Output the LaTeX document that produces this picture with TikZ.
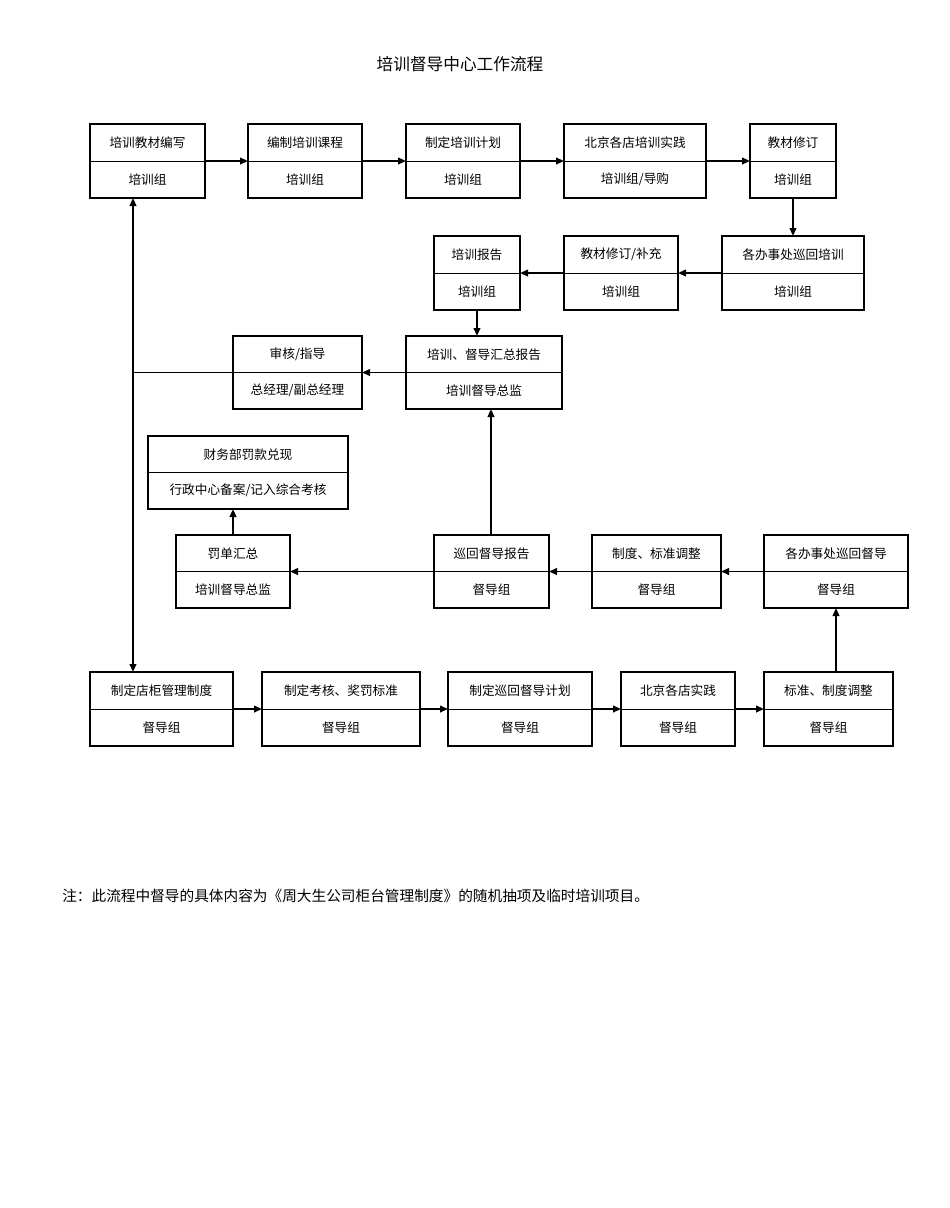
\documentclass[tikz,border=0pt]{standalone}
\usepackage{fontspec}
\setmainfont{Noto Sans CJK SC}
\usetikzlibrary{arrows.meta}
\begin{document}
\begin{tikzpicture}[x=0.75pt,y=-0.75pt,
  bx/.style={draw,line width=1pt},
  tk/.style={draw,line width=1.6pt},
  lbl/.style={font=\fontsize{9.5}{11}\selectfont,inner sep=0pt},
  ar/.style={-{Triangle[length=6pt,width=5pt]},line width=1.3pt},
  br/.style={{Triangle[length=6pt,width=5pt]}-{Triangle[length=6pt,width=5pt]},line width=1.3pt}]
\useasboundingbox (0,0) rectangle (950,1208);
\newcommand{\flowbox}[8]{% name x1 y1 x2 y2 top bottom style
  \draw[#8] (#2,#3) rectangle (#4,#5);
  \draw[line width=0.6pt] (#2,{(#3+#5)/2}) -- (#4,{(#3+#5)/2});
  \coordinate (#1) at ({(#2+#4)/2},{(#3+#5)/2});
  \coordinate (#1-n) at ({(#2+#4)/2},#3);
  \coordinate (#1-s) at ({(#2+#4)/2},#5);
  \coordinate (#1-w) at (#2,{(#3+#5)/2});
  \coordinate (#1-e) at (#4,{(#3+#5)/2});
  \node[lbl] (#1-t) at ({(#2+#4)/2},{#3+(#5-#3)/4}) {#6};
  \node[lbl] (#1-b) at ({(#2+#4)/2},{#5-(#5-#3)/4}) {#7};
}
\node[font=\fontsize{12.5}{14}\selectfont] (title) at (460,64) {培训督导中心工作流程};
\flowbox{A1}{90}{124}{205}{198}{培训教材编写}{培训组}{bx}
\flowbox{A2}{248}{124}{362}{198}{编制培训课程}{培训组}{tk}
\flowbox{A3}{406}{124}{520}{198}{制定培训计划}{培训组}{bx}
\flowbox{A4}{564}{124}{706}{198}{北京各店培训实践}{培训组/导购}{tk}
\flowbox{A5}{750}{124}{836}{198}{教材修订}{培训组}{bx}
\flowbox{B1}{434}{236}{520}{310}{培训报告}{培训组}{bx}
\flowbox{B2}{564}{236}{678}{310}{教材修订/补充}{培训组}{tk}
\flowbox{B3}{722}{236}{864}{310}{各办事处巡回培训}{培训组}{bx}
\flowbox{C1}{233}{336}{362}{409}{审核/指导}{总经理/副总经理}{bx}
\flowbox{C2}{406}{336}{562}{409}{培训、督导汇总报告}{培训督导总监}{bx}
\flowbox{D}{148}{436}{348}{509}{财务部罚款兑现}{行政中心备案/记入综合考核}{bx}
\flowbox{E1}{176}{535}{290}{608}{罚单汇总}{培训督导总监}{bx}
\flowbox{E2}{434}{535}{549}{608}{巡回督导报告}{督导组}{bx}
\flowbox{E3}{592}{535}{721}{608}{制度、标准调整}{督导组}{bx}
\flowbox{E4}{764}{535}{908}{608}{各办事处巡回督导}{督导组}{tk}
\flowbox{F1}{90}{672}{233}{746}{制定店柜管理制度}{督导组}{bx}
\flowbox{F2}{262}{672}{420}{746}{制定考核、奖罚标准}{督导组}{tk}
\flowbox{F3}{448}{672}{592}{746}{制定巡回督导计划}{督导组}{tk}
\flowbox{F4}{621}{672}{735}{746}{北京各店实践}{督导组}{bx}
\flowbox{F5}{764}{672}{893}{746}{标准、制度调整}{督导组}{bx}
\draw[ar] (A1-e) -- (A2-w);
\draw[ar] (A2-e) -- (A3-w);
\draw[ar] (A3-e) -- (A4-w);
\draw[ar] (A4-e) -- (A5-w);
\draw[ar] (793,198) -- (793,236);
\draw[ar] (B3-w) -- (B2-e);
\draw[ar] (B2-w) -- (B1-e);
\draw[ar] (B1-s) -- (B1-s |- C2-n);
\draw[ar] (C2-w) -- (C1-e);
\coordinate (J) at (133,372.5);
\draw[line width=0.6pt] (C1-w) -- (J);
\draw[br] (133,198) -- (133,672);
\draw[ar] (491,535) -- (491,409);
\draw[ar] (E4-w) -- (E3-e);
\draw[ar] (E3-w) -- (E2-e);
\draw[ar] (E2-w) -- (E1-e);
\draw[ar] (E1-n) -- (233,509);
\draw[ar] (F1-e) -- (F2-w);
\draw[ar] (F2-e) -- (F3-w);
\draw[ar] (F3-e) -- (F4-w);
\draw[ar] (F4-e) -- (F5-w);
\draw[ar] (836,672) -- (836,608);
\node[anchor=west,font=\fontsize{11}{13}\selectfont,inner sep=0pt] (note) at (62,896) {注：此流程中督导的具体内容为《周大生公司柜台管理制度》的随机抽项及临时培训项目。};
\end{tikzpicture}
\end{document}
